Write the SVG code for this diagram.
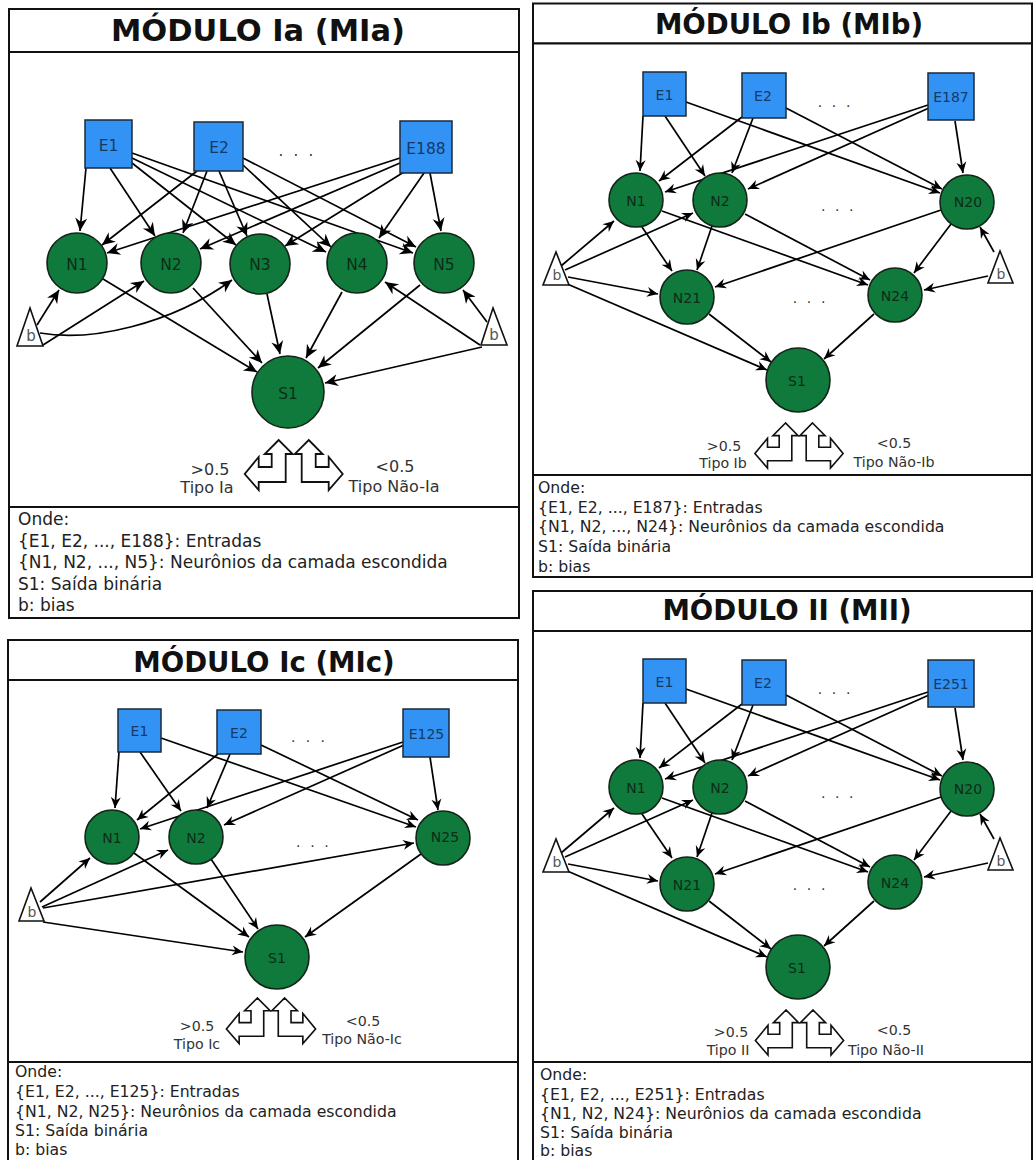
<svg xmlns="http://www.w3.org/2000/svg" xmlns:xlink="http://www.w3.org/1999/xlink" width="1035" height="1160" viewBox="0 0 1035 1160">
<style>
text{font-family:"DejaVu Sans","Liberation Sans",sans-serif}
.frame{fill:#fff;stroke:#111;stroke-width:2}
.title{font-weight:bold;text-anchor:middle;fill:#111}
.leg{fill:#222}
.inp{fill:#3393f5;stroke:#1b2a3a;stroke-width:1.5}
.neu{fill:#107a3c;stroke:#142418;stroke-width:1.6}
.bias{fill:#fff;stroke:#111;stroke-width:1.6}
.el{text-anchor:middle;fill:#153a66}
.nl{text-anchor:middle;fill:#0d2c18}
.bl{text-anchor:middle;fill:#555}
.dots{fill:#333}
.tp{text-anchor:middle;fill:#333}
.c path{stroke:#000;stroke-width:1.7;fill:none}
.cA path{marker-end:url(#ahL)}
.cB path{marker-end:url(#ah)}
.dual polygon{fill:#fff;stroke:#111;stroke-width:1.8}
</style>
<defs>
<marker id="ah" viewBox="-12 -6 13 12" refX="0" refY="0" markerWidth="13" markerHeight="12" markerUnits="userSpaceOnUse" orient="auto"><path d="M0,0 L-11,-5 L-7.5,0 L-11,5 z" fill="#000"/></marker>
<marker id="ahL" viewBox="-14 -7 15 14" refX="0" refY="0" markerWidth="15" markerHeight="14" markerUnits="userSpaceOnUse" orient="auto"><path d="M0,0 L-13,-6 L-9,0 L-13,6 z" fill="#000"/></marker>
<g id="dual" class="dual">
<polygon points="-15,0 -29,14 -22,14 -22,27 -35,27 -35,17 -49,34 -35,50 -35,42 -8,42 -8,14 -1,14"/>
<polygon points="15,0 29,14 22,14 22,27 35,27 35,17 49,34 35,50 35,42 8,42 8,14 1,14"/>
</g>
</defs>
<rect width="1035" height="1160" fill="#fff"/>

<!-- ===== Panel Ia ===== -->
<g id="panel-ia">
<rect class="frame" x="9" y="9" width="510" height="43"/>
<rect class="frame" x="9" y="52" width="510" height="455"/>
<rect class="frame" x="9" y="507" width="510" height="111"/>
<text class="title" x="258" y="41" font-size="30.5">MÓDULO Ia (MIa)</text>
<g class="leg" font-size="17">
<text x="18" y="525">Onde:</text>
<text x="18" y="546.5">{E1, E2, ..., E188}: Entradas</text>
<text x="18" y="568">{N1, N2, ..., N5}: Neurônios da camada escondida</text>
<text x="18" y="589.5">S1: Saída binária</text>
<text x="18" y="611">b: bias</text>
</g>
</g>
<g id="ia-connectors" class="c cA">
<path d="M86,168 L80,231"/>
<path d="M110,168 L155,236"/>
<path d="M132,163 L236,245"/>
<path d="M132,158 L326,252"/>
<path d="M132,153 L413,253"/>
<path d="M197,171 L102,245"/>
<path d="M207,171 L183,233"/>
<path d="M219,171 L247,236"/>
<path d="M243,165 L331,247"/>
<path d="M243,158 L416,247"/>
<path d="M400,158 L107,253"/>
<path d="M400,163 L200,249"/>
<path d="M404,172 L285,246"/>
<path d="M424,173 L379,238"/>
<path d="M430,173 L441,231"/>
<path d="M103,279 L257,372"/>
<path d="M193,288 L262,363"/>
<path d="M267,294 L280,354"/>
<path d="M342,292 L306,358"/>
<path d="M420,285 L318,368"/>
<path d="M37,325 L59,290"/>
<path d="M43,345 L144,281"/>
<path d="M40,333 C90,342 170,325 232,280"/>
<path d="M480,345 L385,282"/>
<path d="M487,322 L463,290"/>
<path d="M482,347 L325,383"/>
</g>
<g id="ia-E1"><rect class="inp" x="85" y="120" width="47" height="48"/><text class="el" x="108.5" y="151" font-size="15.5">E1</text></g>
<g id="ia-E2"><rect class="inp" x="194" y="122" width="49" height="49"/><text class="el" x="219" y="152.5" font-size="15.5">E2</text></g>
<text class="dots" x="278.6" y="156" font-size="15" letter-spacing="10.2">...</text>
<g id="ia-E188"><rect class="inp" x="400" y="121" width="52" height="52"/><text class="el" x="426" y="153.5" font-size="15.5">E188</text></g>
<g id="ia-N1"><circle class="neu" cx="77" cy="263" r="30"/><text class="nl" x="77" y="269.5" font-size="15.5">N1</text></g>
<g id="ia-N2"><circle class="neu" cx="171" cy="263" r="30"/><text class="nl" x="171" y="269.5" font-size="15.5">N2</text></g>
<g id="ia-N3"><circle class="neu" cx="260" cy="264" r="30"/><text class="nl" x="260" y="270" font-size="15.5">N3</text></g>
<g id="ia-N4"><circle class="neu" cx="357" cy="263" r="30"/><text class="nl" x="357" y="269.5" font-size="15.5">N4</text></g>
<g id="ia-N5"><circle class="neu" cx="444" cy="263" r="30"/><text class="nl" x="444" y="269.5" font-size="15.5">N5</text></g>
<g id="ia-S1"><circle class="neu" cx="288" cy="392" r="36"/><text class="nl" x="288" y="398.5" font-size="15.5">S1</text></g>
<g id="ia-b1"><polygon class="bias" points="30,308 17,346 43,346"/><text class="bl" x="31" y="341" font-size="15">b</text></g>
<g id="ia-b2"><polygon class="bias" points="493,308 481,345 507,345"/><text class="bl" x="494" y="340" font-size="15">b</text></g>
<g id="ia-out">
<use xlink:href="#dual" href="#dual" transform="translate(293.7,440)"/>
<g class="tp" font-size="16">
<text x="210" y="475">&gt;0.5</text>
<text x="207" y="492.5">Tipo Ia</text>
<text x="395" y="472">&lt;0.5</text>
<text x="394" y="492">Tipo Não-Ia</text>
</g>
</g>

<!-- ===== Panel Ib ===== -->
<g id="panel-ib">
<rect class="frame" x="533" y="3.5" width="499" height="40"/>
<rect class="frame" x="533" y="43.5" width="499" height="431.5"/>
<rect class="frame" x="533" y="475" width="499" height="102"/>
<text class="title" x="789" y="34.3" font-size="27.6">MÓDULO Ib (MIb)</text>
<g class="leg" font-size="15.7">
<text x="538" y="493">Onde:</text>
<text x="538" y="512.5">{E1, E2, ..., E187}: Entradas</text>
<text x="538" y="532">{N1, N2, ..., N24}: Neurônios da camada escondida</text>
<text x="538" y="552">S1: Saída binária</text>
<text x="538" y="572">b: bias</text>
</g>
</g>
<g id="ib-connectors" class="c cB">
<path d="M643,116 L640,171"/>
<path d="M665,116 L705,176"/>
<path d="M686,102 L940,193"/>
<path d="M742,117 L659,181"/>
<path d="M753,118 L732,173"/>
<path d="M786,108 L942,189"/>
<path d="M928,105 L665,192"/>
<path d="M929,108 L748,189"/>
<path d="M955,121 L963,173"/>
<path d="M642,227 L672,271"/>
<path d="M662,211 L868,285"/>
<path d="M712,226 L697,270"/>
<path d="M745,214 L870,280"/>
<path d="M941,210 L715,287"/>
<path d="M951,224 L914,273"/>
<path d="M561,266 L614,221"/>
<path d="M565,270 L693,213"/>
<path d="M568,277 L658,294"/>
<path d="M565,283 L767,370"/>
<path d="M709,314 L771,362"/>
<path d="M874,314 L824,359"/>
<path d="M994,252 L980,227"/>
<path d="M988,276 L924,290"/>
</g>
<g id="ib-E1"><rect class="inp" x="643" y="72" width="43" height="44"/><text class="el" x="664.5" y="99.5" font-size="14">E1</text></g>
<g id="ib-E2"><rect class="inp" x="742" y="73" width="44" height="45"/><text class="el" x="763" y="101" font-size="14">E2</text></g>
<g id="ib-E187"><rect class="inp" x="928" y="73" width="46" height="47"/><text class="el" x="951" y="102" font-size="14">E187</text></g>
<text class="dots" x="817.8" y="107" font-size="14" letter-spacing="9.6">...</text>
<text class="dots" x="821" y="210.5" font-size="14" letter-spacing="9.6">...</text>
<text class="dots" x="792.8" y="303" font-size="14" letter-spacing="9.6">...</text>
<g id="ib-N1"><circle class="neu" cx="636" cy="200" r="27"/><text class="nl" x="636" y="205.5" font-size="14">N1</text></g>
<g id="ib-N2"><circle class="neu" cx="720" cy="200" r="27"/><text class="nl" x="720" y="205.5" font-size="14">N2</text></g>
<g id="ib-N20"><circle class="neu" cx="967" cy="202" r="27"/><text class="nl" x="968" y="207" font-size="14">N20</text></g>
<g id="ib-N21"><circle class="neu" cx="687" cy="297" r="27"/><text class="nl" x="687" y="302.5" font-size="14">N21</text></g>
<g id="ib-N24"><circle class="neu" cx="895" cy="295" r="27"/><text class="nl" x="895" y="300.5" font-size="14">N24</text></g>
<g id="ib-S1"><circle class="neu" cx="798" cy="380" r="32"/><text class="nl" x="797" y="385.5" font-size="14">S1</text></g>
<g id="ib-b1"><polygon class="bias" points="556,252 543,285 569,285"/><text class="bl" x="557" y="280" font-size="14">b</text></g>
<g id="ib-b2"><polygon class="bias" points="1000,251 988,283 1013,283"/><text class="bl" x="1001" y="279" font-size="14">b</text></g>
<g id="ib-out">
<use xlink:href="#dual" href="#dual" transform="translate(799,423) scale(0.9)"/>
<g class="tp" font-size="14.2">
<text x="724" y="450.5">&gt;0.5</text>
<text x="723" y="467.5">Tipo Ib</text>
<text x="894" y="448">&lt;0.5</text>
<text x="894" y="467">Tipo Não-Ib</text>
</g>
</g>

<!-- ===== Panel Ic ===== -->
<g id="panel-ic">
<rect class="frame" x="8" y="640" width="510" height="40"/>
<rect class="frame" x="8" y="680" width="510" height="382"/>
<rect class="frame" x="8" y="1062" width="510" height="110"/>
<text class="title" x="264" y="671.7" font-size="27.6">MÓDULO Ic (MIc)</text>
<g class="leg" font-size="15.7">
<text x="15" y="1077">Onde:</text>
<text x="15" y="1097">{E1, E2, ..., E125}: Entradas</text>
<text x="15" y="1116.5">{N1, N2, N25}: Neurônios da camada escondida</text>
<text x="15" y="1136">S1: Saída binária</text>
<text x="15" y="1155">b: bias</text>
</g>
</g>
<g id="ic-connectors" class="c cB">
<path d="M119,752 L115,808"/>
<path d="M140,752 L181,811"/>
<path d="M161,738 L416,827"/>
<path d="M218,754 L137,820"/>
<path d="M230,754 L207,808"/>
<path d="M261,745 L418,820"/>
<path d="M403,742 L140,829"/>
<path d="M404,745 L224,825"/>
<path d="M430,757 L438,810"/>
<path d="M134,853 L249,937"/>
<path d="M211,859 L258,929"/>
<path d="M421,854 L305,937"/>
<path d="M40,902 L90,858"/>
<path d="M42,907 L168,850"/>
<path d="M43,908 L414,843"/>
<path d="M43,922 L243,952"/>
</g>
<g id="ic-E1"><rect class="inp" x="118" y="709" width="43" height="43"/><text class="el" x="139.5" y="736" font-size="14">E1</text></g>
<g id="ic-E2"><rect class="inp" x="217" y="710" width="44" height="44"/><text class="el" x="239" y="738" font-size="14">E2</text></g>
<g id="ic-E125"><rect class="inp" x="403" y="709" width="46" height="48"/><text class="el" x="426.5" y="739" font-size="14">E125</text></g>
<text class="dots" x="291" y="742" font-size="14" letter-spacing="10.3">...</text>
<text class="dots" x="296" y="847" font-size="14" letter-spacing="9.7">...</text>
<g id="ic-N1"><circle class="neu" cx="112" cy="837" r="27"/><text class="nl" x="112" y="843" font-size="14">N1</text></g>
<g id="ic-N2"><circle class="neu" cx="196" cy="837" r="27"/><text class="nl" x="196" y="843" font-size="14">N2</text></g>
<g id="ic-N25"><circle class="neu" cx="443" cy="838" r="27"/><text class="nl" x="445" y="842" font-size="14">N25</text></g>
<g id="ic-S1"><circle class="neu" cx="277" cy="957" r="32"/><text class="nl" x="277" y="962.5" font-size="14">S1</text></g>
<g id="ic-b1"><polygon class="bias" points="31,888 19,921 44,921"/><text class="bl" x="32" y="916.5" font-size="14">b</text></g>
<g id="ic-out">
<use xlink:href="#dual" href="#dual" transform="translate(271,998) scale(0.91)"/>
<g class="tp" font-size="14.2">
<text x="197" y="1031">&gt;0.5</text>
<text x="197" y="1048.5">Tipo Ic</text>
<text x="363" y="1026">&lt;0.5</text>
<text x="362" y="1044">Tipo Não-Ic</text>
</g>
</g>

<!-- ===== Panel II ===== -->
<g id="panel-ii">
<rect class="frame" x="533" y="591" width="499" height="40"/>
<rect class="frame" x="533" y="631" width="499" height="431"/>
<rect class="frame" x="533" y="1062" width="499" height="110"/>
<text class="title" x="787" y="619.5" font-size="27.6">MÓDULO II (MII)</text>
<g class="leg" font-size="15.7">
<text x="540" y="1080">Onde:</text>
<text x="540" y="1099.5">{E1, E2, ..., E251}: Entradas</text>
<text x="540" y="1119">{N1, N2, N24}: Neurônios da camada escondida</text>
<text x="540" y="1137.5">S1: Saída binária</text>
<text x="540" y="1155.5">b: bias</text>
</g>
</g>
<g id="ii-connectors" class="c cB" transform="translate(0,587)">
<path d="M643,116 L640,171"/>
<path d="M665,116 L705,176"/>
<path d="M686,102 L940,193"/>
<path d="M742,117 L659,181"/>
<path d="M753,118 L732,173"/>
<path d="M786,108 L942,189"/>
<path d="M928,105 L665,192"/>
<path d="M929,108 L748,189"/>
<path d="M955,121 L963,173"/>
<path d="M642,227 L672,271"/>
<path d="M662,211 L868,285"/>
<path d="M712,226 L697,270"/>
<path d="M745,214 L870,280"/>
<path d="M941,210 L715,287"/>
<path d="M951,224 L914,273"/>
<path d="M561,266 L614,221"/>
<path d="M565,270 L693,213"/>
<path d="M568,277 L658,294"/>
<path d="M565,283 L767,370"/>
<path d="M709,314 L771,362"/>
<path d="M874,314 L824,359"/>
<path d="M994,252 L980,227"/>
<path d="M988,276 L924,290"/>
</g>
<g id="ii-nodes" transform="translate(0,587)">
<g id="ii-E1"><rect class="inp" x="643" y="72" width="43" height="44"/><text class="el" x="664.5" y="99.5" font-size="14">E1</text></g>
<g id="ii-E2"><rect class="inp" x="742" y="73" width="44" height="45"/><text class="el" x="763" y="101" font-size="14">E2</text></g>
<g id="ii-E251"><rect class="inp" x="928" y="73" width="46" height="47"/><text class="el" x="951" y="102" font-size="14">E251</text></g>
<text class="dots" x="817.8" y="107" font-size="14" letter-spacing="9.6">...</text>
<text class="dots" x="821" y="210.5" font-size="14" letter-spacing="9.6">...</text>
<text class="dots" x="792.8" y="303" font-size="14" letter-spacing="9.6">...</text>
<g id="ii-N1"><circle class="neu" cx="636" cy="200" r="27"/><text class="nl" x="636" y="205.5" font-size="14">N1</text></g>
<g id="ii-N2"><circle class="neu" cx="720" cy="200" r="27"/><text class="nl" x="720" y="205.5" font-size="14">N2</text></g>
<g id="ii-N20"><circle class="neu" cx="967" cy="202" r="27"/><text class="nl" x="968" y="207" font-size="14">N20</text></g>
<g id="ii-N21"><circle class="neu" cx="687" cy="297" r="27"/><text class="nl" x="687" y="302.5" font-size="14">N21</text></g>
<g id="ii-N24"><circle class="neu" cx="895" cy="295" r="27"/><text class="nl" x="895" y="300.5" font-size="14">N24</text></g>
<g id="ii-S1"><circle class="neu" cx="798" cy="380" r="32"/><text class="nl" x="797" y="385.5" font-size="14">S1</text></g>
<g id="ii-b1"><polygon class="bias" points="556,252 543,285 569,285"/><text class="bl" x="557" y="280" font-size="14">b</text></g>
<g id="ii-b2"><polygon class="bias" points="1000,251 988,283 1013,283"/><text class="bl" x="1001" y="279" font-size="14">b</text></g>
</g>
<g id="ii-out">
<use xlink:href="#dual" href="#dual" transform="translate(799.5,1010) scale(0.9)"/>
<g class="tp" font-size="14.2">
<text x="731" y="1037">&gt;0.5</text>
<text x="728" y="1055">Tipo II</text>
<text x="894" y="1035">&lt;0.5</text>
<text x="886" y="1054.5">Tipo Não-II</text>
</g>
</g>
</svg>
